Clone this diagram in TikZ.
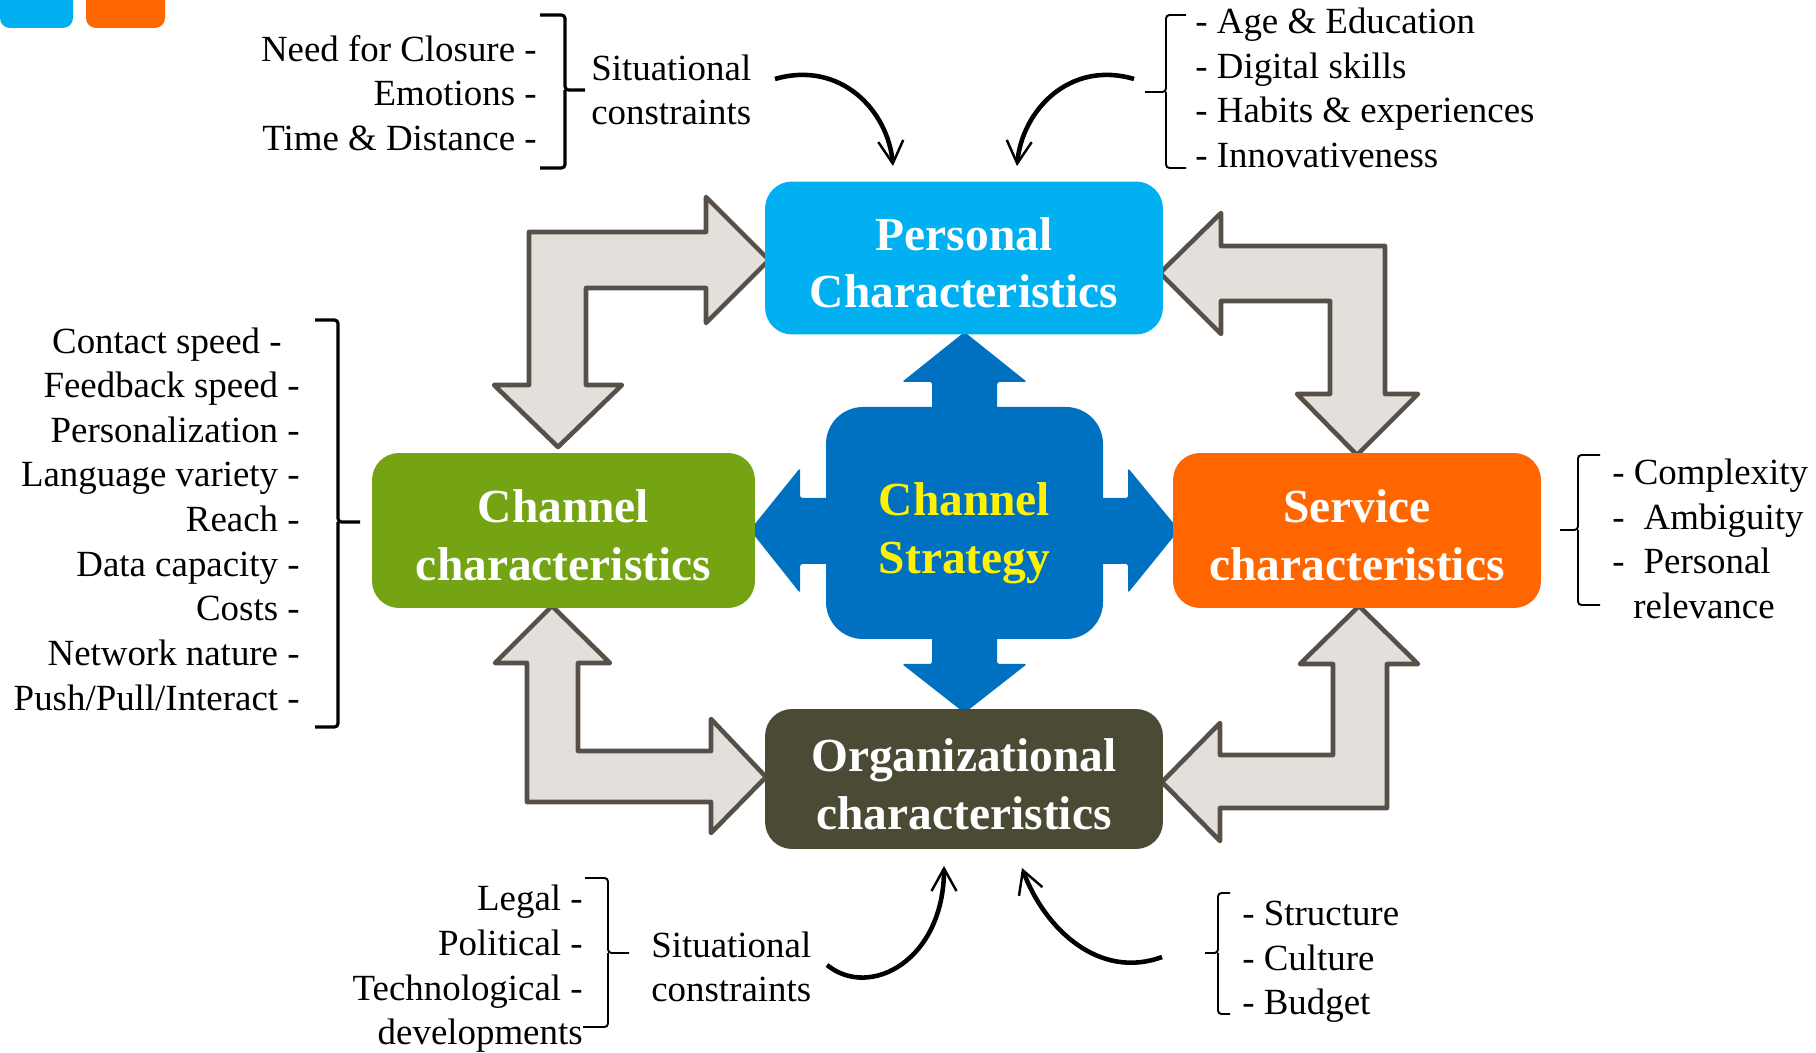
\documentclass[tikz,border=0pt]{standalone}
\usepackage{fontspec}
\setmainfont{Liberation Serif}
\usetikzlibrary{arrows.meta}

\definecolor{persblue}{HTML}{00B0F0}
\definecolor{chgreen}{HTML}{74A414}
\definecolor{servorange}{HTML}{FF6600}
\definecolor{orgolive}{HTML}{4A4A35}
\definecolor{stratblue}{HTML}{0070C0}
\definecolor{graybody}{HTML}{E3E0DB}
\definecolor{grayedge}{HTML}{575048}

\begin{document}
\begin{tikzpicture}[x=0.02cm, y=-0.02cm,
    box/.style={rounded corners=0.54cm, text=white, align=center, inner sep=0pt,
        font=\fontsize{27}{33}\selectfont\bfseries},
    items/.style={font=\fontsize{21}{25.4}\selectfont, inner sep=0pt},
    bendarrow/.style={draw=grayedge, fill=graybody, line width=2.6pt, line join=round},
    brak/.style={line width=1.1pt, rounded corners=2pt},
    curvy/.style={line width=2.6pt, -{Straight Barb[length=0.45cm, width=0.5cm, line width=1.4pt]}}]
  \clip (0,0) rectangle (1816,1053);

  % little tabs in the corner
  \fill[persblue, rounded corners=0.2cm] (0,-40) rectangle (73,28);
  \fill[servorange, rounded corners=0.2cm] (86,-40) rectangle (165,28);

  % grey bent arrows
  \draw[bendarrow] (529,232) -- (706,232) -- (706,197) -- (769,260) -- (706,323) -- (706,288)
      -- (586,288) -- (586,385) -- (622,385) -- (558,447) -- (494,385) -- (529,385) -- cycle;
  \draw[bendarrow] (1385,246) -- (1221,246) -- (1221,213) -- (1160,273) -- (1221,334) -- (1221,301)
      -- (1330,301) -- (1330,394) -- (1297,394) -- (1357,455) -- (1418,394) -- (1385,394) -- cycle;
  \draw[bendarrow] (527,802) -- (711,802) -- (711,833) -- (766,777) -- (711,719) -- (711,751)
      -- (578,751) -- (578,663) -- (610,663) -- (552,606) -- (495,663) -- (527,663) -- cycle;
  \draw[bendarrow] (1387,808) -- (1220,808) -- (1220,841) -- (1162,782) -- (1220,723) -- (1220,755)
      -- (1333,755) -- (1333,664) -- (1300,664) -- (1359,606) -- (1418,664) -- (1387,664) -- cycle;

  % channel strategy with its four arrows
  \fill[stratblue, rounded corners=1pt] (932,420) -- (932,382) -- (902,382) -- (964.5,332)
      -- (1027,382) -- (997,382) -- (997,420) -- cycle;
  \fill[stratblue, rounded corners=1pt] (932,630) -- (932,664) -- (902,664) -- (964.5,713)
      -- (1027,664) -- (997,664) -- (997,630) -- cycle;
  \fill[stratblue, rounded corners=1pt] (840,498) -- (800,498) -- (800,468) -- (750,530)
      -- (800,593) -- (800,564) -- (840,564) -- cycle;
  \fill[stratblue, rounded corners=1pt] (1090,498) -- (1128,498) -- (1128,468) -- (1179,530)
      -- (1128,593) -- (1128,564) -- (1090,564) -- cycle;
  \fill[stratblue, rounded corners=0.74cm] (826,407) rectangle (1103,639);
  \node[box, text=yellow] (strategy) at (964.5,533) {Channel\\Strategy};

  % the four characteristics
  \node[box, fill=persblue, minimum width=7.96cm, minimum height=3.06cm] (personal) at (964,258)
      {\rule{0pt}{0.85cm}Personal\\Characteristics};
  \node[box, fill=chgreen, minimum width=7.66cm, minimum height=3.1cm] (channel) at (563.5,530.5)
      {\rule{0pt}{0.85cm}Channel\\characteristics};
  \node[box, fill=servorange, minimum width=7.36cm, minimum height=3.1cm] (service) at (1357,530.5)
      {\rule{0pt}{0.85cm}Service\\characteristics};
  \node[box, fill=orgolive, minimum width=7.96cm, minimum height=2.8cm] (organizational) at (964,779)
      {\rule{0pt}{0.85cm}Organizational\\characteristics};

  % lists of factors
  \node[items, anchor=east, align=right] (needs) at (537,93)
      {Need for Closure -\\Emotions -\\Time \& Distance -};
  \node[items, anchor=west, align=left] (sittop) at (591,90) {Situational\\constraints};
  \node[items, anchor=west, align=left] (persitems) at (1195,88)
      {- Age \& Education\\- Digital skills\\- Habits \& experiences\\- Innovativeness};
  \node[items, anchor=east, align=right] (chitems) at (300,519)
      {Contact speed -\hspace*{0.36cm}\\Feedback speed -\hspace*{0.16cm}\\Personalization -\\
       Language variety -\\Reach -\\Data capacity -\\Costs -\\Network nature -\\Push/Pull/Interact -};
  \node[items, anchor=west, align=left] (servitems) at (1612,539)
      {- Complexity\\-\hspace*{0.38cm}Ambiguity\\-\hspace*{0.38cm}Personal\\\hspace*{0.42cm}relevance};
  \node[items, anchor=east, align=right] (envitems) at (583,969)
      {Legal -\\Political -\\Technological -\\developments};
  \node[items, anchor=west, align=left] (sitbottom) at (651,967) {Situational\\constraints};
  \node[items, anchor=west, align=left] (orgitems) at (1242,962) {- Structure\\- Culture\\- Budget};

  % brackets
  \draw[brak, line width=1.8pt] (540,15) -- (565,15) -- (565,90) -- (585,90) (565,90) -- (565,168) -- (540,168);
  \draw[brak] (1186,15) -- (1166,15) -- (1166,92) -- (1145,92) (1166,92) -- (1166,168) -- (1186,168);
  \draw[brak, line width=1.8pt] (315,320) -- (338,320) -- (338,522) -- (360,522) (338,522) -- (338,727) -- (315,727);
  \draw[brak] (1600,455) -- (1578,455) -- (1578,530) -- (1560,530) (1578,530) -- (1578,605) -- (1600,605);
  \draw[brak] (585,878) -- (608,878) -- (608,953) -- (629,953) (608,953) -- (608,1027) -- (583,1027);
  \draw[brak] (1230,893) -- (1218,893) -- (1218,953) -- (1205,953) (1218,953) -- (1218,1014) -- (1230,1014);

  % curved arrows
  \coordinate (sittopend) at (775,79);
  \coordinate (persleft) at (893,166);
  \coordinate (persitemsend) at (1134,79);
  \coordinate (persright) at (1017,166);
  \coordinate (sitbottomend) at (827,965);
  \coordinate (orgleft) at (944,866);
  \coordinate (orgitemsend) at (1162,957);
  \coordinate (orgright) at (1022,868);
  \draw[curvy] (sittopend) .. controls (840,60) and (888,110) .. (persleft);
  \draw[curvy] (persitemsend) .. controls (1070,60) and (1022,110) .. (persright);
  \draw[curvy] (sitbottomend) .. controls (870,1000) and (944,960) .. (orgleft);
  \draw[curvy] (orgitemsend) .. controls (1100,980) and (1045,930) .. (orgright);
\end{tikzpicture}
\end{document}
